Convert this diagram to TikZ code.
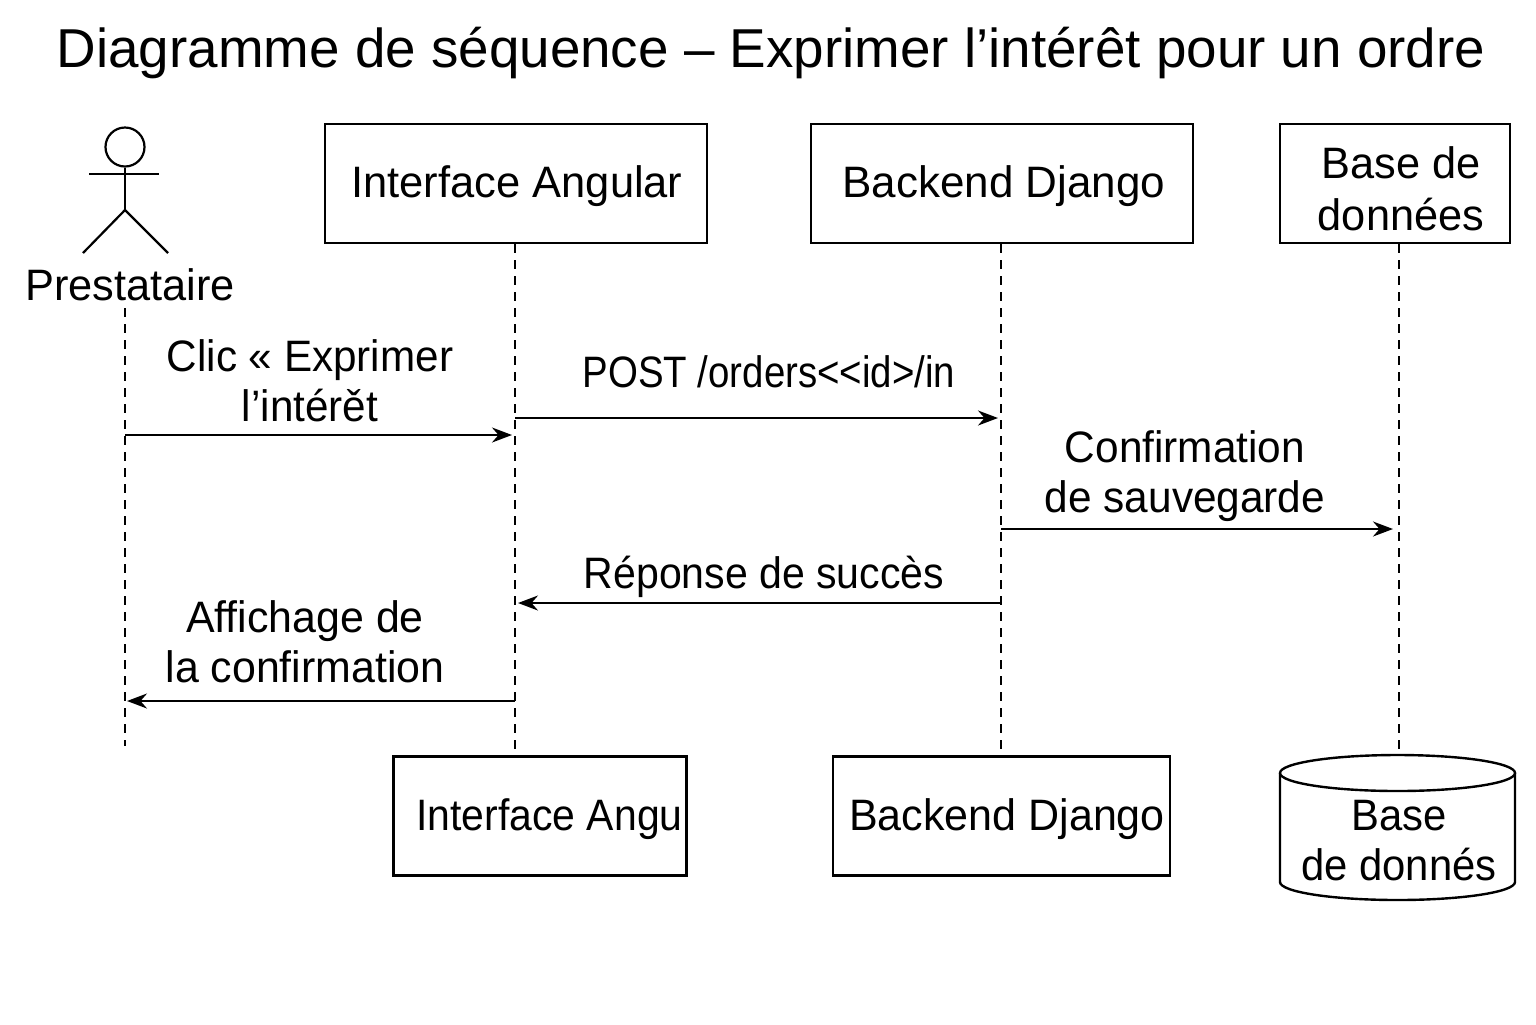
\documentclass[tikz,border=0pt]{standalone}
\usepackage{fontspec}
\setmainfont{Liberation Sans}
\usepackage{pgf, tikz}
\usetikzlibrary{arrows.meta}

\begin{document}
\begin{tikzpicture}[
            x = 0.5pt, % one unit is one pixel of the reference
            y = -0.5pt,
            > = {Stealth[length=10pt, width=7.5pt]}, % arrow head style
            every node/.style = {inner sep = 0pt, font = \fontsize{22}{25}\selectfont, align = center},
            narrow/.style = {font = \fontsize{22}{25}\selectfont\addfontfeature{FakeStretch=#1}}
        ]

        \tikzstyle{box}=[
            draw = black,
            line width = 1.2pt,
            fill = white
        ]
        \tikzstyle{lifeline}=[
            draw = black,
            line width = 0.9pt,
            dash pattern = on 4.5pt off 3.5pt
        ]
        \tikzstyle{msg}=[
            draw = black,
            line width = 1pt,
            ->
        ]
        \tikzstyle{stick}=[
            draw = black,
            line width = 1.1pt
        ]

        \useasboundingbox (0,0) rectangle (1536,1024);

        \node[font = \fontsize{27.4}{30}\selectfont] (title) at (771,53) {Diagramme de séquence -- Exprimer l’intérêt pour un ordre};

        % top row
        \node[box, minimum width = 191pt, minimum height = 59.5pt] (angular) at (516,183.5) {};
        \node[narrow = 0.988] (angulartop) at (517,186) {Interface Angular};
        \node[box, minimum width = 191pt, minimum height = 59.5pt] (django) at (1002,183.5) {};
        \node (djangotop) at (1004,186) {Backend Django};
        \node[box, minimum width = 115pt, minimum height = 59.5pt] (db) at (1395,183.5) {};
        \node[narrow = 0.985] (dbtext) at (1401,189) {Base de\\[1pt]données};

        % actor
        \node[circle, stick, minimum size = 19.5pt] (head) at (125,147) {};
        \coordinate (armleft) at (89,174);
        \coordinate (armright) at (159,174);
        \coordinate (hip) at (125,210);
        \coordinate (legleft) at (83,253);
        \coordinate (legright) at (168,253);
        \draw[stick] (head) -- (hip);
        \draw[stick] (armleft) -- (armright);
        \draw[stick] (legleft) -- (hip) -- (legright);
        \node[narrow = 0.985] (actor) at (130,285) {Prestataire};

        % bottom row
        \node[box, minimum width = 146.5pt, minimum height = 59.5pt] (angularbot) at (540,816) {};
        \node[narrow = 0.93] (angulartext) at (549.5,819) {Interface Angu};
        \node[box, minimum width = 168.5pt, minimum height = 59.5pt] (djangobot) at (1001.5,816) {};
        \node[narrow = 0.978] (djangotext) at (1007,819) {Backend Django};

        % database drum
        \coordinate (drumtop) at (1397.5,773);
        \coordinate (drumleft) at (1280,773);
        \coordinate (drumbase) at (1280,882);
        \coordinate (drumright) at (1515,773);
        \draw[box] (drumleft) -- (drumbase) arc[start angle = 180, end angle = 0, x radius = 117.5, y radius = 18] -- (drumright);
        \draw[box] (drumtop) ellipse [x radius = 117.5, y radius = 18];
        \node[narrow = 0.95] (dbbottext) at (1399,841) {Base\\[0pt]de donnés};

        % lifelines
        \coordinate (actortop) at (125,308);
        \coordinate (actorend) at (125,746);
        \coordinate (angularend) at (515,752);
        \coordinate (djangoend) at (1001,752);
        \coordinate (dbend) at (1399,752);
        \draw[lifeline] (actortop) -- (actorend);
        \draw[lifeline] (angular.south -| angularend) -- (angularend);
        \draw[lifeline] (django.south -| djangoend) -- (djangoend);
        \draw[lifeline] (db.south -| dbend) -- (dbend);

        % messages
        \coordinate (m1a) at (125,435);
        \coordinate (m1b) at (512,435);
        \coordinate (m2a) at (515,418);
        \coordinate (m2b) at (998,418);
        \coordinate (m3a) at (1001,529);
        \coordinate (m3b) at (1393,529);
        \coordinate (m4a) at (1001,603);
        \coordinate (m4b) at (518,603);
        \coordinate (m5a) at (515,701);
        \coordinate (m5b) at (127,701);
        \draw[msg] (m1a) -- (m1b);
        \draw[msg] (m2a) -- (m2b);
        \draw[msg] (m3a) -- (m3b);
        \draw[msg] (m4a) -- (m4b);
        \draw[msg] (m5a) -- (m5b);

        \node[narrow = 0.96] (m1text) at (310,381) {Clic « Exprimer\\l’intérět};
        \node[narrow = 0.873] (m2text) at (769,372) {POST /orders<{}<id>/in};
        \node[narrow = 0.963] (m3text) at (1185,476) {Confirmation\\de sauvegarde};
        \node[narrow = 0.933] (m4text) at (764,577) {Réponse de succès};
        \node[narrow = 0.975] (m5text) at (305,642) {Affichage de\\la confirmation};

  \end{tikzpicture}
\end{document}
